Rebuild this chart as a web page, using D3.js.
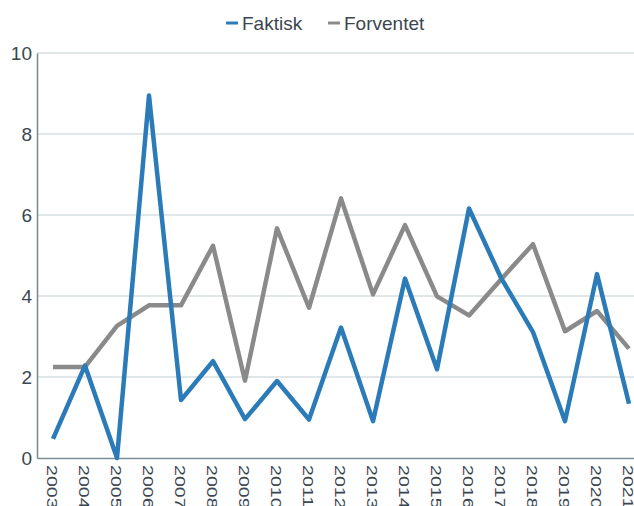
<!DOCTYPE html>
<meta charset="utf-8">
<script src="https://d3js.org/d3.v7.min.js"></script>
<style>
  body { margin: 0; background: #fff; }
  svg text { font-family: "Liberation Sans", Arial, sans-serif; fill: #3b4650; }
</style>
<svg id="chart" width="634" height="506"></svg>
<script>
// years on the x axis
var years = ["2003","2004","2005","2006","2007","2008","2009","2010","2011","2012",
             "2013","2014","2015","2016","2017","2018","2019","2020","2021"];
// actual values
var faktisk = [0.47, 2.28, 0, 8.95, 1.43, 2.39, 0.96, 1.9, 0.95, 3.22,
               0.91, 4.43, 2.19, 6.16, 4.45, 3.11, 0.91, 4.54, 1.34];
// expected values
var forventet = [2.25, 2.25, 3.26, 3.77, 3.77, 5.24, 1.91, 5.67, 3.71, 6.41,
                 4.04, 5.75, 3.99, 3.52, 4.41, 5.28, 3.13, 3.63, 2.70];
var yTicks = [0, 2, 4, 6, 8, 10];
var seriesNames = ["Faktisk", "Forventet"];
var seriesColors = ["#2b7bb8", "#8a8a8a"];

var svg = d3.select("#chart");

var x = d3.scaleBand().domain(years).range([37, 645]);
var y = d3.scaleLinear().domain([0, 10]).range([458, 53]);

// gridlines
svg.append("g")
  .selectAll("line")
  .data(yTicks.filter(function(d){ return d > 0; }))
  .enter().append("line")
    .attr("x1", 37).attr("x2", 645)
    .attr("y1", function(d){ return y(d); })
    .attr("y2", function(d){ return y(d); })
    .attr("stroke", "#c3cdd4")
    .attr("stroke-width", 1.2);

// y axis
var yAxis = svg.append("g")
  .attr("transform", "translate(37,0)")
  .call(d3.axisLeft(y).tickValues(yTicks).tickSize(0).tickPadding(5).tickSizeOuter(0));
yAxis.select(".domain").attr("stroke", "#7d8b95").attr("stroke-width", 1.6);
yAxis.selectAll("text").style("font-size", "19px").attr("fill", "#3b4650");

// x axis
var xAxis = svg.append("g")
  .attr("transform", "translate(0,458)")
  .call(d3.axisBottom(x).tickSize(0).tickSizeOuter(0));
xAxis.select(".domain").attr("stroke", "#7d8b95").attr("stroke-width", 1.6);
xAxis.selectAll("text")
  .attr("x", 0).attr("y", 0).attr("dy", "0.35em")
  .attr("text-anchor", "start")
  .attr("transform", "translate(-1,7) rotate(90) scale(1.4,1)")
  .style("font-size", "14px")
  .attr("fill", "#3b4650");

// lines
var line = d3.line()
  .x(function(d, i){ return x(years[i]) + x.bandwidth() / 2; })
  .y(function(d){ return y(d); });

[forventet, faktisk].forEach(function(vals, k) {
  svg.append("path")
    .datum(vals)
    .attr("fill", "none")
    .attr("stroke", k === 0 ? seriesColors[1] : seriesColors[0])
    .attr("stroke-width", 4.5)
    .attr("stroke-linejoin", "round")
    .attr("d", line);
});

// legend
var legendX = [226, 328];
var legend = svg.append("g");
seriesNames.forEach(function(name, i) {
  legend.append("line")
    .attr("x1", legendX[i]).attr("x2", legendX[i] + 12)
    .attr("y1", 23).attr("y2", 23)
    .attr("stroke", seriesColors[i])
    .attr("stroke-width", 3);
  legend.append("text")
    .attr("x", legendX[i] + 16)
    .attr("y", 30)
    .style("font-size", "19px")
    .text(name);
});
</script>
